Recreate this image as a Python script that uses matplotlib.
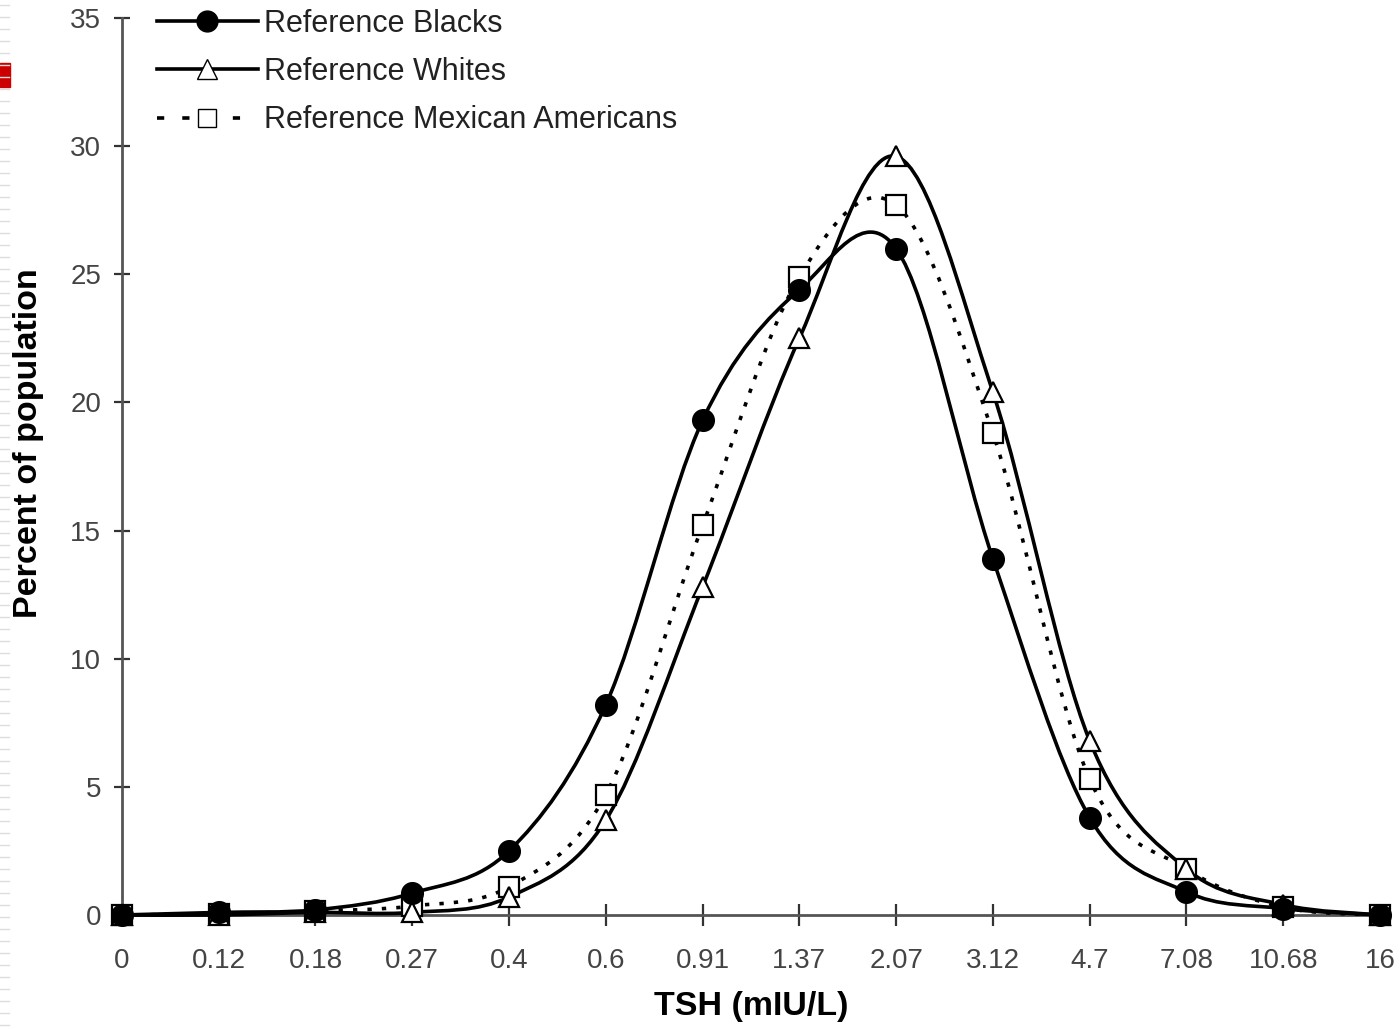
import numpy as np
import matplotlib
matplotlib.use("Agg")
import matplotlib.pyplot as plt
from matplotlib.path import Path
from matplotlib.patches import PathPatch, Rectangle
from matplotlib.lines import Line2D

plt.rcParams['font.family'] = ['Liberation Sans', 'DejaVu Sans']

tsh_labels = ["0", "0.12", "0.18", "0.27", "0.4", "0.6", "0.91", "1.37",
              "2.07", "3.12", "4.7", "7.08", "10.68", "16"]
blacks = [0, 0.1, 0.2, 0.85, 2.5, 8.2, 19.3, 24.4, 26.0, 13.9, 3.8, 0.9, 0.25, 0]
whites = [0, 0.0, 0.1, 0.1, 0.7, 3.7, 12.8, 22.5, 29.6, 20.4, 6.8, 1.8, 0.4, 0]
mexican = [0, 0.05, 0.15, 0.35, 1.1, 4.7, 15.2, 24.9, 27.7, 18.8, 5.3, 1.8, 0.3, 0]


def smooth_path(xs, ys):
    # Catmull-Rom style bezier, like a spreadsheet "smoothed line"
    pts = np.column_stack([xs, ys]).astype(float)
    n = len(pts)
    verts = [pts[0]]
    codes = [Path.MOVETO]
    for i in range(n - 1):
        p0 = pts[i - 1] if i > 0 else pts[i]
        p1 = pts[i]
        p2 = pts[i + 1]
        p3 = pts[i + 2] if i + 2 < n else pts[i + 1]
        c1 = p1 + (p2 - p0) / 6.0
        c2 = p2 - (p3 - p1) / 6.0
        verts += [c1, c2, p2]
        codes += [Path.CURVE4] * 3
    return Path(verts, codes)


fig = plt.figure(figsize=(14, 10.29), dpi=100)
ax = fig.add_axes([0.0871, 0.1108, 0.8986, 0.8717])

x = np.arange(len(tsh_labels))

series = [
    (blacks, "o", "black", "-", 15, "Reference Blacks", 6),
    (whites, "^", "white", "-", 15, "Reference Whites", 5),
    (mexican, "s", "white", (0, (1.2, 2.8)), 14, "Reference Mexican Americans", 4),
]

for ys, mk, mfc, ls, ms, lab, z in series:
    patch = PathPatch(smooth_path(x, ys), facecolor="none", edgecolor="black",
                      lw=2.6, linestyle=ls, clip_on=False, zorder=3)
    ax.add_patch(patch)

for ys, mk, mfc, ls, ms, lab, z in series:
    ax.plot(x, ys, linestyle="none", marker=mk, ms=ms, mfc=mfc, mec="black",
            mew=1.6, clip_on=False, zorder=z)

ax.set_xlim(0, 13)
ax.set_ylim(0, 35)
ax.set_xticks(x)
ax.set_xticklabels(tsh_labels)
ax.set_yticks(np.arange(0, 36, 5))

for s in ["top", "right"]:
    ax.spines[s].set_visible(False)
for s in ["left", "bottom"]:
    ax.spines[s].set_color("#555555")
    ax.spines[s].set_linewidth(2)

ax.tick_params(axis="x", direction="inout", length=16, width=1.6, color="#333333",
               labelsize=20, labelcolor="#444444", pad=16)
ax.tick_params(axis="y", direction="inout", length=12, width=1.6, color="#333333",
               labelsize=20, labelcolor="#444444", pad=9)

ax.set_xlabel("TSH (mIU/L)", fontsize=24.5, fontweight="bold", labelpad=12)
ax.set_ylabel("Percent of population", fontsize=24.5, fontweight="bold")
ax.yaxis.set_label_coords(-0.062, 0.526)

handles = [
    Line2D([], [], color="black", lw=2.6, marker="o", ms=15, mfc="black", mec="black"),
    Line2D([], [], color="black", lw=2.6, marker="^", ms=15, mfc="white", mec="black"),
    Line2D([], [], color="black", lw=2.6, linestyle=(0, (2, 5)), marker="s", ms=13,
           mfc="white", mec="black"),
]
leg = ax.legend(handles, [s[5] for s in series], loc="upper left",
                bbox_to_anchor=(0.018, 1.024), frameon=False, fontsize=22,
                handlelength=3.3, handletextpad=0.2, labelspacing=0.6,
                borderaxespad=0)
for t in leg.get_texts():
    t.set_color("#222222")

# slide artifacts at the left edge
fig.patches.append(Rectangle((0, 1 - 87 / 1029), 10 / 1400, 24 / 1029,
                             transform=fig.transFigure, color="#cc0000"))
for yy in np.arange(5, 1029, 12):
    fig.add_artist(Line2D([0, 9 / 1400], [1 - yy / 1029] * 2, color="#dddddd",
                          lw=1, transform=fig.transFigure))

fig.savefig("out.png", dpi=100)
